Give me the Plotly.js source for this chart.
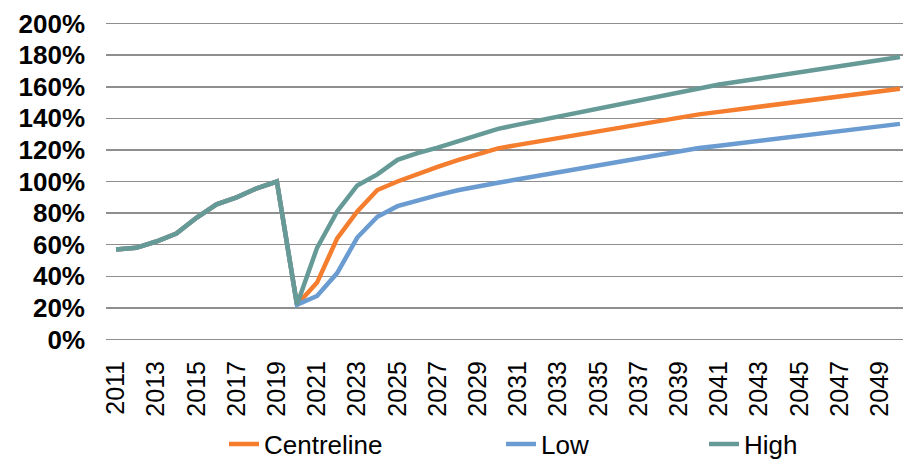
<!DOCTYPE html>
<html>
<head>
<meta charset="utf-8">
<script src="https://cdn.plot.ly/plotly-3.0.1.min.js"></script>
<style>html,body{margin:0;padding:0;background:#fff;}#chart{width:903px;height:460px;}</style>
</head>
<body>
<div id="chart"></div>
<script>
const years = [2011,2012,2013,2014,2015,2016,2017,2018,2019,2020,
  2021,2022,2023,2024,2025,2026,2027,2028,2029,2030,
  2031,2032,2033,2034,2035,2036,2037,2038,2039,2040,
  2041,2042,2043,2044,2045,2046,2047,2048,2049,2050];
const history = [57,58,62,67,77,85.5,90,95.7,100,22];
const centreline = history.concat([36,64,81,94.6,100,104.8,109.2,113.5,117.3,121,
  123.2,125.4,127.5,129.6,131.7,133.8,135.9,138.1,140.3,142.5,
  144.1,145.7,147.3,149,150.6,152.2,153.8,155.4,157.1,158.7]);
const low = history.concat([27.5,42,64.5,77.7,84.4,88.2,91.4,94.5,97.2,99.2,
  101.4,103.6,105.8,108,110.2,112.4,114.6,116.8,119,121.2,
  122.7,124.3,125.8,127.4,128.9,130.5,132,133.6,135,136.5]);
const high = history.concat([58,81,97.5,104.5,113.7,118,121.5,125.2,129.2,133.3,
  136,138.6,141.2,143.8,146.4,149,151.6,154.2,156.8,159.4,
  161.4,163.3,165.2,167.1,169.1,171,172.9,174.9,176.8,178.8]);
const seriesNames = ['Centreline','Low','High'];
const colors = ['#F47D2E','#6A9BD1','#669A97'];
const tickYears = years.filter((y,i)=> i%2===0);

const fam = 'Liberation Sans, Arial, sans-serif';
const legFont = {family:fam, size:26, color:'#000'};
const xFont = {family:fam, size:25, color:'#000'};
const yFont = {family:fam, size:26, color:'#000', weight:'bold'};
const traces = [centreline, low, high].map((v,i)=>({
  x: years, y: v, type:'scatter', mode:'lines', name: seriesNames[i],
  line:{color:colors[i], width:4.5},
  legend: i===0 ? 'legend' : 'legend'+(i+1)
}));

function cx(px){ return px/903; }
const legBase = {orientation:'h', yref:'container', xref:'container', yanchor:'middle', xanchor:'left',
  y: 1-444/460, font:legFont, bgcolor:'rgba(0,0,0,0)', borderwidth:0};

const layout = {
  width:903, height:460,
  margin:{l:106, r:0, t:22, b:119, autoexpand:false},
  paper_bgcolor:'#fff', plot_bgcolor:'#fff',
  font: legFont,
  xaxis:{type:'linear', range:[2010.5, 2050.15], tickvals:tickYears,
    ticktext: tickYears.map(String), tickangle:-90, showgrid:false, zeroline:false,
    showline:false, ticks:'', ticklabelstandoff:14, tickfont:xFont, automargin:false},
  yaxis:{range:[-1,201], tickvals:[0,20,40,60,80,100,120,140,160,180,200],
    ticktext:['0%','20%','40%','60%','80%','100%','120%','140%','160%','180%','200%'],
    showgrid:true, gridcolor:'#8E8E8E', gridwidth:1.5, zeroline:true, zerolinecolor:'#8E8E8E',
    zerolinewidth:1.5, showline:false, ticks:'', ticklabelstandoff:20,
    tickfont:yFont, automargin:false},
  showlegend:true,
  legend: Object.assign({}, legBase, {x: cx(224)}),
  legend2: Object.assign({}, legBase, {x: cx(501)}),
  legend3: Object.assign({}, legBase, {x: cx(704)})
};
Plotly.newPlot('chart', traces, layout, {displayModeBar:false, staticPlot:true});
</script>
</body>
</html>
